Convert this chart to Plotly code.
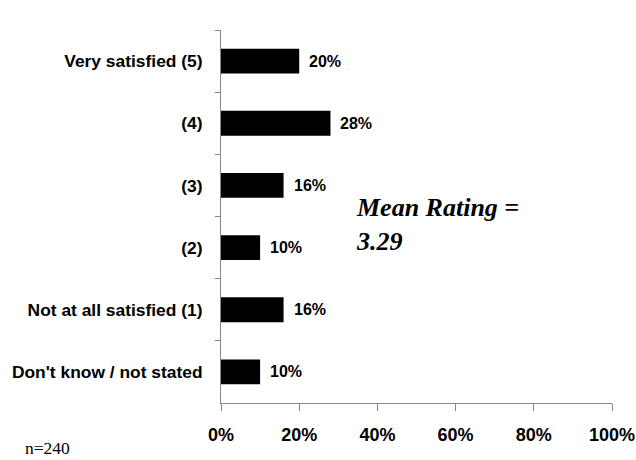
import plotly.graph_objects as go

categories = ["Very satisfied (5)", "(4)", "(3)", "(2)", "Not at all satisfied (1)", "Don't know / not stated"]
values = [20, 28, 16, 10, 16, 10]
x_ticks = [0, 20, 40, 60, 80, 100]
x_tick_labels = ["0%", "20%", "40%", "60%", "80%", "100%"]
mean_rating = 3.29
n_count = 240

SANS = "Liberation Sans, Arial, sans-serif"
SERIF = "Liberation Serif, Times New Roman, serif"
AXIS_COLOR = "#888888"

fig = go.Figure()
fig.add_trace(go.Bar(
    x=values, y=categories, orientation="h",
    marker=dict(color="black", line=dict(width=0)),
    width=0.4, hoverinfo="skip",
))

for v, c in zip(values, categories):
    fig.add_annotation(
        x=v, y=c, xref="x", yref="y", text=f"{v}%", showarrow=False,
        xanchor="left", yanchor="middle", xshift=8,
        font=dict(family=SANS, size=16, color="black", weight="bold"),
    )

fig.add_annotation(
    x=0.34, y=0.478, xref="paper", yref="paper",
    text=f"Mean Rating =<br>{mean_rating:.2f}",
    showarrow=False, xanchor="left", yanchor="middle", align="left",
    font=dict(family=SERIF, size=26, color="black", weight="bold", style="italic"),
)
fig.add_annotation(
    x=-0.507, y=-0.121, xref="paper", yref="paper", text=f"n={n_count}",
    showarrow=False, xanchor="left", yanchor="middle",
    font=dict(family=SERIF, size=17.5, color="black"),
)

fig.update_layout(
    width=636, height=460,
    margin=dict(l=221, r=24, t=30, b=57, autoexpand=False),
    paper_bgcolor="white", plot_bgcolor="white",
    showlegend=False,
    xaxis=dict(
        range=[0, 100], tickvals=x_ticks, ticktext=x_tick_labels,
        showgrid=False, zeroline=False, automargin=False,
        showline=True, linecolor=AXIS_COLOR, linewidth=1,
        ticks="outside", ticklen=7, tickcolor=AXIS_COLOR, tickwidth=1,
        tickfont=dict(family=SANS, size=18, color="black", weight="bold"),
        ticklabelstandoff=8,
    ),
    yaxis=dict(
        type="category", categoryorder="array", categoryarray=categories,
        autorange="reversed", automargin=False,
        showgrid=False, zeroline=False,
        showline=True, linecolor=AXIS_COLOR, linewidth=1,
        ticks="outside", ticklen=5, tickcolor=AXIS_COLOR, tickwidth=1,
        tickson="boundaries",
        tickfont=dict(family=SANS, size=17.4, color="black", weight="bold"),
        ticklabelstandoff=14,
    ),
)

fig.write_html(
    "out.html",
    config={"displayModeBar": False},
    post_script="document.body.style.margin='0';",
)
